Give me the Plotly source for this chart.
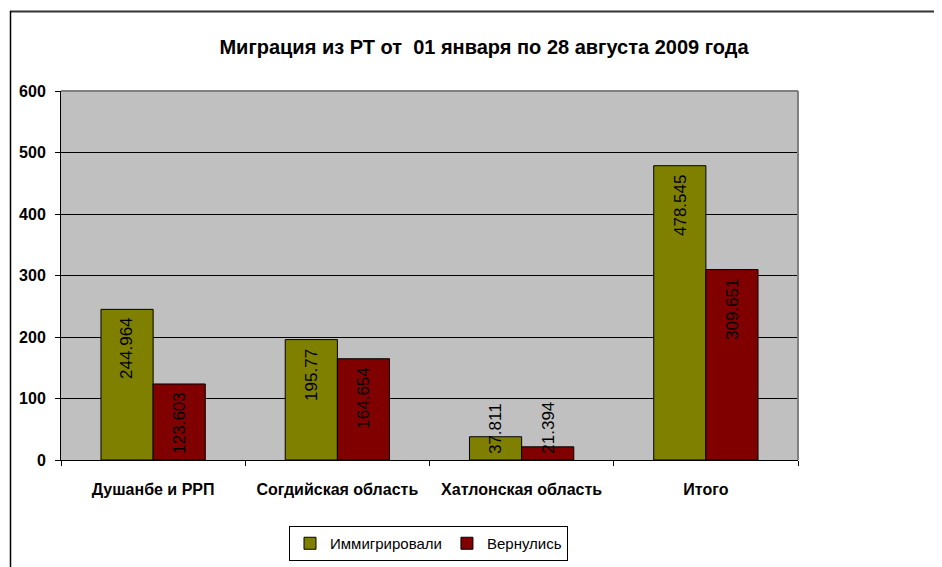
import plotly.graph_objects as go

categories = ["Душанбе и РРП", "Согдийская область", "Хатлонская область", "Итого"]
immigrated = [244.964, 195.77, 37.811, 478.545]
returned = [123.603, 164.654, 21.394, 309.651]
series_names = ["Иммигрировали", "Вернулись"]
y_ticks = [0, 100, 200, 300, 400, 500, 600]
title_text = "Миграция из РТ от  01 января по 28 августа 2009 года"

W, H = 942, 567
OFF = 8  # page body margin offset
# plot area in page pixels: x 61..798, y 91..460
ML = 61 - OFF
MT = 91 - OFF
MR = W - (798 - OFF)
MB = H - (460 - OFF)
PW, PH = W - ML - MR, H - MT - MB
YMAX = 600
BARGAP = 0.434

ARIAL = "Liberation Sans, Arial, sans-serif"


def px_x(p):
    return (p - OFF - ML) / PW


def px_y(p):
    return (H - MB - (p - OFF)) / PH


fig = go.Figure()
fig.add_trace(go.Bar(x=categories, y=immigrated, name=series_names[0],
                     marker=dict(color="#808000", line=dict(color="#000000", width=1))))
fig.add_trace(go.Bar(x=categories, y=returned, name=series_names[1],
                     marker=dict(color="#800000", line=dict(color="#000000", width=1))))

# value labels, rotated, inside end of bars
half = (1 - BARGAP) / 4
annotations = []
for si, vals in enumerate([immigrated, returned]):
    off = -half if si == 0 else half
    for i, v in enumerate(vals):
        label = str(v)
        bar_px = v / YMAX * PH
        text_px = len(label) * 9.2 + 10
        if bar_px >= text_px:
            annotations.append(dict(x=i + off, y=v, xref="x", yref="y", text=label,
                                    textangle=-90, showarrow=False, yanchor="top",
                                    xanchor="center", yshift=-7,
                                    font=dict(family=ARIAL, size=17, color="#000000")))
        else:
            annotations.append(dict(x=i + off, y=0, xref="x", yref="y", text=label,
                                    textangle=-90, showarrow=False, yanchor="bottom",
                                    xanchor="center", yshift=4,
                                    font=dict(family=ARIAL, size=17, color="#000000")))

shapes = [
    # outer chart frame (top and left visible)
    dict(type="line", xref="paper", yref="paper", x0=px_x(10), x1=px_x(W + 30),
         y0=px_y(11.5), y1=px_y(11.5), line=dict(color="#333333", width=2)),
    dict(type="line", xref="paper", yref="paper", x0=px_x(10.5), x1=px_x(10.5),
         y0=px_y(11), y1=px_y(H + 30), line=dict(color="#000000", width=1.5)),
    # plot area border top/right (gray)
    dict(type="line", xref="paper", yref="paper", x0=0, x1=1, y0=1, y1=1,
         line=dict(color="#808080", width=2)),
    dict(type="line", xref="paper", yref="paper", x0=1, x1=1, y0=0, y1=1,
         line=dict(color="#808080", width=2)),
]

fig.update_layout(
    width=W, height=H,
    margin=dict(l=ML, r=MR, t=MT, b=MB, pad=0, autoexpand=False),
    paper_bgcolor="#FFFFFF",
    plot_bgcolor="#C0C0C0",
    barmode="group",
    bargap=BARGAP,
    bargroupgap=0,
    title=dict(text=title_text, x=(484 - OFF) / W, xref="container", xanchor="center",
               y=1 - (47 - OFF) / H, yref="container", yanchor="middle",
               font=dict(family=ARIAL, size=20, color="#000000", weight="bold")),
    xaxis=dict(type="category", showgrid=False, showline=True, linecolor="#000000",
               linewidth=1, ticks="outside", ticklen=5, tickcolor="#000000",
               tickson="boundaries", ticklabelstandoff=15, tickangle=0,
               automargin=False,
               tickfont=dict(family=ARIAL, size=16, color="#000000", weight="bold")),
    yaxis=dict(range=[0, YMAX], tickvals=y_ticks, showgrid=True, gridcolor="#000000",
               gridwidth=1, showline=True, linecolor="#000000", linewidth=1,
               ticks="outside", ticklen=5, tickcolor="#000000", zeroline=False,
               ticklabelstandoff=6, automargin=False,
               tickfont=dict(family=ARIAL, size=16, color="#000000", weight="bold")),
    legend=dict(orientation="h", x=px_x(428.5), xanchor="center", y=px_y(526),
                yanchor="top", bordercolor="#000000", borderwidth=1,
                bgcolor="#FFFFFF", itemwidth=30,
                font=dict(family=ARIAL, size=15, color="#000000")),
    annotations=annotations,
    shapes=shapes,
    showlegend=True,
)

fig.write_html("out.html")
